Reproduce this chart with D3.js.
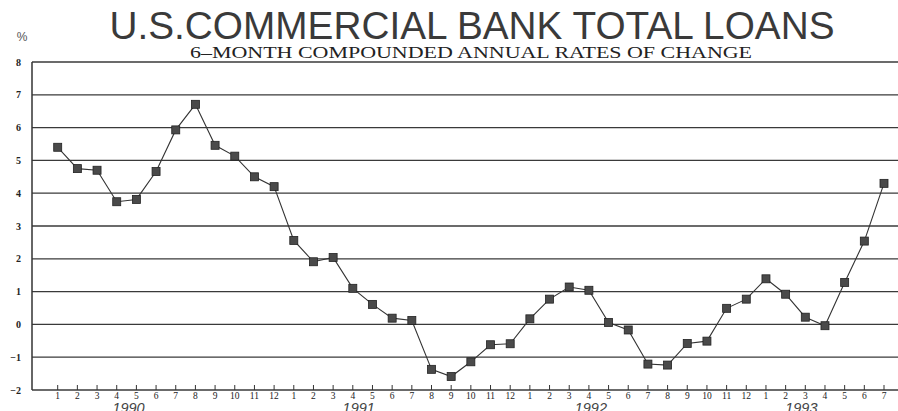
<!DOCTYPE html>
<html>
<head>
<meta charset="utf-8">
<script src="https://cdn.jsdelivr.net/npm/d3@7"></script>
<style>
  body { margin: 0; background: #fff; }
  svg { display: block; }
</style>
</head>
<body>
<div id="chart"></div>
<script>
// month labels along the bottom, Jan 1990 .. Jul 1993
const months = [1,2,3,4,5,6,7,8,9,10,11,12, 1,2,3,4,5,6,7,8,9,10,11,12,
                1,2,3,4,5,6,7,8,9,10,11,12, 1,2,3,4,5,6,7];
const years = ['1990', '1991', '1992', '1993'];
// 6-month compounded annual rate of change, %
const rates = [5.40, 4.75, 4.70, 3.74, 3.81, 4.66, 5.93, 6.71, 5.46, 5.13, 4.50, 4.20,
               2.56, 1.91, 2.04, 1.10, 0.61, 0.19, 0.12, -1.37, -1.59, -1.14, -0.62, -0.59,
               0.17, 0.77, 1.14, 1.04, 0.06, -0.17, -1.21, -1.24, -0.58, -0.51, 0.49, 0.77,
               1.39, 0.92, 0.22, -0.04, 1.28, 2.54, 4.30];
const yTicks = [-2, -1, 0, 1, 2, 3, 4, 5, 6, 7, 8];

const width = 898, height = 411;
const plotLeft = 32, plotRight = 898, plotTop = 62, plotBottom = 390;

const svg = d3.select('#chart').append('svg')
    .attr('width', width)
    .attr('height', height);

const x = d3.scaleLinear().domain([0, months.length - 1]).range([57.7, 884]);
const y = d3.scaleLinear().domain([-2, 8]).range([plotBottom, plotTop]);

// horizontal grid
svg.append('g')
    .selectAll('line')
    .data(yTicks)
    .join('line')
    .attr('x1', plotLeft).attr('x2', plotRight)
    .attr('y1', d => y(d)).attr('y2', d => y(d))
    .attr('stroke', '#3a3a3a')
    .attr('stroke-width', 1.3);

// left axis line
svg.append('line')
    .attr('x1', plotLeft).attr('x2', plotLeft)
    .attr('y1', plotTop).attr('y2', plotBottom)
    .attr('stroke', '#333').attr('stroke-width', 1.5);

// y labels
svg.append('g')
    .selectAll('text')
    .data(yTicks)
    .join('text')
    .attr('x', 21)
    .attr('y', d => y(d) + 3.5)
    .attr('text-anchor', 'end')
    .attr('font-family', 'Liberation Serif, serif')
    .attr('font-weight', 'bold')
    .attr('font-size', 10)
    .attr('fill', '#222')
    .text(d => d < 0 ? '\u2212' + Math.abs(d) : d);

svg.append('text')
    .attr('x', 22).attr('y', 41)
    .attr('text-anchor', 'middle')
    .attr('font-family', 'Liberation Sans, sans-serif')
    .attr('font-size', 12)
    .attr('fill', '#555')
    .text('%');

// month ticks
const xAxis = svg.append('g');
xAxis.selectAll('line')
    .data(months)
    .join('line')
    .attr('x1', (d, i) => x(i)).attr('x2', (d, i) => x(i))
    .attr('y1', plotBottom - 5).attr('y2', plotBottom)
    .attr('stroke', '#333').attr('stroke-width', 1);

xAxis.selectAll('text')
    .data(months)
    .join('text')
    .attr('x', (d, i) => x(i))
    .attr('y', 399)
    .attr('text-anchor', 'middle')
    .attr('font-family', 'Liberation Serif, serif')
    .attr('font-size', 9.5)
    .attr('fill', '#222')
    .text(d => d);

// year labels sit under roughly the 4th month of each year
const yearAt = [3.6, 15.3, 27.1, 37.8];
svg.append('g')
    .selectAll('text')
    .data(years)
    .join('text')
    .attr('x', (d, i) => x(yearAt[i]))
    .attr('y', 413)
    .attr('text-anchor', 'middle')
    .attr('font-family', 'Liberation Sans, sans-serif')
    .attr('font-style', 'italic')
    .attr('font-size', 14.5)
    .attr('fill', '#444')
    .text(d => d);

// series
const line = d3.line()
    .x((d, i) => x(i))
    .y(d => y(d));

svg.append('path')
    .datum(rates)
    .attr('d', line)
    .attr('fill', 'none')
    .attr('stroke', '#333')
    .attr('stroke-width', 1.1);

svg.append('g')
    .selectAll('rect')
    .data(rates)
    .join('rect')
    .attr('x', (d, i) => x(i) - 4)
    .attr('y', d => y(d) - 4)
    .attr('width', 8).attr('height', 8)
    .attr('fill', '#4a4a4a')
    .attr('stroke', '#222')
    .attr('stroke-width', 0.8);

// titles
svg.append('text')
    .attr('x', 472).attr('y', 39)
    .attr('text-anchor', 'middle')
    .attr('font-family', 'Liberation Sans, sans-serif')
    .attr('font-size', 38)
    .attr('fill', '#3a3a3a')
    .attr('textLength', 725)
    .attr('lengthAdjust', 'spacingAndGlyphs')
    .text('U.S.COMMERCIAL BANK TOTAL LOANS');

svg.append('text')
    .attr('x', 471).attr('y', 58)
    .attr('text-anchor', 'middle')
    .attr('font-family', 'Liberation Serif, serif')
    .attr('font-size', 16)
    .attr('fill', '#222')
    .attr('textLength', 562)
    .attr('lengthAdjust', 'spacingAndGlyphs')
    .text('6\u2013MONTH COMPOUNDED ANNUAL RATES OF CHANGE');
</script>
</body>
</html>
